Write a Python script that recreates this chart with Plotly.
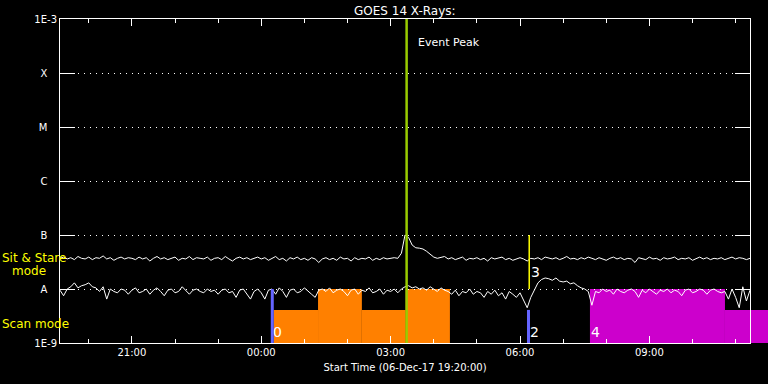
import plotly.graph_objects as go
import pandas as pd

# ---------------- data ----------------
START = "2017-12-06 19:20"
END = "2017-12-07 11:20"
PAD_END = "2017-12-07 11:45:03"   # paper right edge (bars run past the frame)

# GOES-14 long channel (upper curve), units of 1e-9 W/m^2, 5-minute samples from START
long_flux_e9 = [
    37, 39, 36, 38, 35, 40, 37, 36, 39, 35, 38, 37, 41, 36, 38, 34, 37, 39, 36, 38,
    37, 35, 39, 36, 38, 33, 37, 40, 36, 38, 35, 37, 39, 34, 37, 36, 40, 35, 38, 37,
    36, 39, 34, 37, 38, 35, 40, 36, 33, 37, 39, 36, 38, 35, 37, 39,
    36, 38, 34, 37, 40, 35, 37, 33, 38, 36, 39, 35, 37, 34, 38, 36,
    31, 36, 38, 35, 37, 34, 39, 36, 37, 33, 38, 35, 37, 36, 39, 34, 37, 35, 38, 36, 37, 38, 37, 46,
    100, 90, 65, 58, 57, 55, 50, 44, 39, 37, 38, 40,
    36, 38, 35, 37, 39, 34, 37, 36, 38, 35, 37, 33, 38, 36, 37, 39, 35, 37, 34, 36,
    38, 36, 33, 37, 36, 38, 35, 39, 37, 36, 38, 35, 37, 40, 36, 37, 35, 38, 36, 39,
    37, 35, 38, 36, 34, 37, 39, 36, 38, 35, 37, 36, 31, 38, 37, 35, 39, 36, 37, 34,
    38, 36, 37, 39, 35, 37, 36, 38, 34, 37, 39, 36, 38, 35, 37, 36, 38, 35, 37, 39, 36, 38, 37, 35, 37,
]

# GOES-14 short channel (lower curve), units of 1e-9 W/m^2
short_flux_e9 = [
    9.5, 7.5, 10, 11, 13, 10.5, 11.5, 12, 13, 11, 10.5, 9, 11, 6.5, 10, 9, 8.5, 10, 9.5, 8,
    9.5, 10.5, 8.5, 9, 10, 8, 9.5, 10.5, 9, 7.5, 9.5, 10, 8.5, 9, 11, 9.5, 8, 9.5, 10, 9,
    8.5, 10, 9, 9.5, 8, 9.5, 10, 8.5, 9, 7, 9.5, 10, 8, 6.5, 9, 10,
    8.5, 6.5, 9.5, 10, 8, 10.5, 9, 7, 9.5, 10, 8.5, 9, 10.5, 9, 8, 7,
    9.5, 10, 9, 10.5, 8.5, 9.5, 10, 9, 7.5, 9.5, 10, 8, 9.5, 9, 10.5, 8.5, 9, 10, 8, 9.5, 9, 10, 8.5, 10,
    11, 11.5, 10.5, 11, 10, 10.5, 9.5, 11, 10, 9, 10.5, 9.5,
    9, 8, 9.5, 7.5, 9, 8.5, 10, 8, 9, 8.5, 7, 9, 8, 9.5, 7.5, 8.5, 6.5, 9, 8, 7,
    8.5, 6, 4.5, 7, 9.5, 13, 15, 16, 15.5, 14.5, 16, 14, 13.5, 14, 12.5, 13, 11.5, 10.5, 10, 9,
    5, 9, 8.5, 10, 9, 9.5, 8, 10, 9, 8.5, 9.5, 10, 9, 7, 9.5, 8.5, 10, 9, 8, 9.5,
    9, 10, 8.5, 9.5, 9, 7.5, 9.5, 10, 8.5, 9, 10, 9.5, 8, 9.5, 10, 9, 8.5, 9, 6.5, 10, 7, 4.5, 11, 6, 9.5,
]

# Scan-mode blocks
orange_start = ["2017-12-07 00:17:20", "2017-12-07 01:19:00", "2017-12-07 02:20:00", "2017-12-07 03:21:00"]
orange_end = ["2017-12-07 01:19:00", "2017-12-07 02:20:00", "2017-12-07 03:21:00", "2017-12-07 04:22:30"]
orange_level = [4.1e-9, 1e-8, 4.1e-9, 1e-8]

magenta_start = ["2017-12-07 07:37:20", "2017-12-07 10:45:10"]
magenta_end = ["2017-12-07 10:45:10", "2017-12-07 11:50:00"]
magenta_level = [1e-8, 4.1e-9]

# Markers
event_peak_time = "2017-12-07 03:22:15"
blue_marker_labels = ["0", "2"]
blue_marker_times = ["2017-12-07 00:15:20", "2017-12-07 06:11:50"]
blue_marker_tops = [1e-8, 4.1e-9]
yellow_marker_label = "3"
yellow_marker_time = "2017-12-07 06:12:50"
yellow_marker_range = [1e-8, 1e-7]
magenta_label = "4"

ytick_vals = [1e-9, 1e-8, 1e-7, 1e-6, 1e-5, 1e-4, 1e-3]
ytick_text = ["1E-9", "A", "B", "C", "M", "X", "1E-3"]

# ---------------- figure ----------------
W, H = 768, 384
ML, MR, MT, MB = 60, 0, 19, 41
FRAME_W = 690
frac = FRAME_W / (W - ML - MR)

times = pd.date_range(START, periods=len(long_flux_e9), freq="5min")
long_flux = [v * 1e-9 for v in long_flux_e9]
short_flux = [v * 1e-9 for v in short_flux_e9]

def durations(starts, ends):
    return [(pd.Timestamp(e) - pd.Timestamp(s)).total_seconds() * 1000 for s, e in zip(starts, ends)]

fig = go.Figure()

# bars on hidden full-width axes (not clipped at frame)
fig.add_trace(go.Bar(x=orange_start, y=orange_level, width=durations(orange_start, orange_end),
                     offset=0, marker=dict(color="#ff8000", line=dict(width=0)),
                     xaxis="x", yaxis="y", showlegend=False, hoverinfo="skip"))
fig.add_trace(go.Bar(x=magenta_start, y=magenta_level, width=durations(magenta_start, magenta_end),
                     offset=0, marker=dict(color="#cc00cc", line=dict(width=0)),
                     xaxis="x", yaxis="y", showlegend=False, hoverinfo="skip"))

# curves
fig.add_trace(go.Scatter(x=times, y=long_flux, mode="lines", line=dict(color="white", width=1),
                         xaxis="x2", yaxis="y2", showlegend=False))
fig.add_trace(go.Scatter(x=times, y=short_flux, mode="lines", line=dict(color="white", width=1),
                         xaxis="x2", yaxis="y2", showlegend=False))

# markers
for t, top in zip(blue_marker_times, blue_marker_tops):
    fig.add_trace(go.Scatter(x=[t, t], y=[1e-9, top], mode="lines",
                             line=dict(color="#6464ff", width=3),
                             xaxis="x2", yaxis="y2", showlegend=False))
fig.add_trace(go.Scatter(x=[yellow_marker_time] * 2, y=yellow_marker_range, mode="lines",
                         line=dict(color="#ffff00", width=1.5),
                         xaxis="x2", yaxis="y2", showlegend=False))
fig.add_trace(go.Scatter(x=[event_peak_time] * 2, y=[1e-9, 1e-3], mode="lines",
                         line=dict(color="#99cc00", width=2.5),
                         xaxis="x2", yaxis="y2", showlegend=False))

FONT = "DejaVu Sans"
ann = []
for lab, t in zip(blue_marker_labels, blue_marker_times):
    ann.append(dict(x=t, y=-8.80, xref="x2", yref="y2", text=lab, showarrow=False,
                    xanchor="left", yanchor="middle", xshift=-1,
                    font=dict(family=FONT, size=14, color="white")))
ann.append(dict(x=yellow_marker_time, y=-7.68, xref="x2", yref="y2", text=yellow_marker_label,
                showarrow=False, xanchor="left", yanchor="middle", xshift=0,
                font=dict(family=FONT, size=14, color="white")))
ann.append(dict(x=magenta_start[0], y=-8.80, xref="x2", yref="y2", text=magenta_label,
                showarrow=False, xanchor="left", yanchor="middle", xshift=-1,
                font=dict(family=FONT, size=14, color="white")))
ann.append(dict(x=event_peak_time, y=-3.444, xref="x2", yref="y2", text="Event Peak",
                showarrow=False, xanchor="left", yanchor="middle", xshift=9,
                font=dict(family=FONT, size=11, color="white")))
ann.append(dict(x=0.5, y=1, xref="x2 domain", yref="paper", text="GOES 14 X-Rays:",
                showarrow=False, xanchor="center", yanchor="bottom", yshift=-1,
                font=dict(family=FONT, size=12, color="white")))
ann.append(dict(x=0, y=-7.426, xref="paper", yref="y2", text="Sit & Stare", showarrow=False,
                xanchor="left", yanchor="middle", xshift=-60,
                font=dict(family=FONT, size=12, color="#ffff00")))
ann.append(dict(x=0, y=-7.667, xref="paper", yref="y2", text="mode", showarrow=False,
                xanchor="left", yanchor="middle", xshift=-50,
                font=dict(family=FONT, size=12, color="#ffff00")))
ann.append(dict(x=0, y=-8.648, xref="paper", yref="y2", text="Scan mode", showarrow=False,
                xanchor="left", yanchor="middle", xshift=-60,
                font=dict(family=FONT, size=12, color="#ffff00")))

pad = "\u00a0\u00a0\u00a0"
ytext = [t if t.startswith("1E") else t + pad for t in ytick_text]

fig.update_layout(
    width=W, height=H,
    margin=dict(l=ML, r=MR, t=MT, b=MB, pad=0, autoexpand=False),
    paper_bgcolor="black", plot_bgcolor="rgba(0,0,0,0)",
    barmode="overlay",
    showlegend=False,
    hovermode=False,
    font=dict(family=FONT, color="white", size=10),
    annotations=ann,
    xaxis=dict(domain=[0, 1], type="date", range=[START, PAD_END], visible=False,
               anchor="y", fixedrange=True, automargin=False),
    yaxis=dict(domain=[0, 1], type="log", range=[-9, -3], visible=False, anchor="x",
               automargin=False),
    xaxis2=dict(domain=[0, frac], type="date", range=[START, END], anchor="y2",
                automargin=False,
                showline=True, linecolor="white", linewidth=1, mirror="ticks",
                ticks="inside", ticklen=7, tickwidth=1, tickcolor="white",
                dtick=3 * 3600 * 1000, tick0="2017-12-06 21:00", tickformat="%H:%M",
                minor=dict(ticks="inside", ticklen=4, dtick=3600 * 1000, tickcolor="white",
                           tickwidth=1, showgrid=False),
                showgrid=False, zeroline=False,
                tickfont=dict(family=FONT, size=10, color="white"),
                title=dict(text="Start Time (06-Dec-17 19:20:00)", standoff=6,
                           font=dict(family=FONT, size=10, color="white"))),
    yaxis2=dict(domain=[0, 1], type="log", range=[-9, -3], anchor="x2",
                automargin=False,
                showline=True, linecolor="white", linewidth=1, mirror="ticks",
                ticks="inside", ticklen=15, tickwidth=1, tickcolor="white",
                tickvals=ytick_vals, ticktext=ytext,
                showgrid=True, gridcolor="white", gridwidth=1, griddash="1px,5px",
                zeroline=False,
                tickfont=dict(family=FONT, size=10, color="white")),
)

fig.write_html(
    "out.html",
    config={"displayModeBar": False, "staticPlot": True},
    post_script="document.body.style.margin='0px';document.body.style.background='black';"
                "document.body.style.overflow='hidden';",
)
